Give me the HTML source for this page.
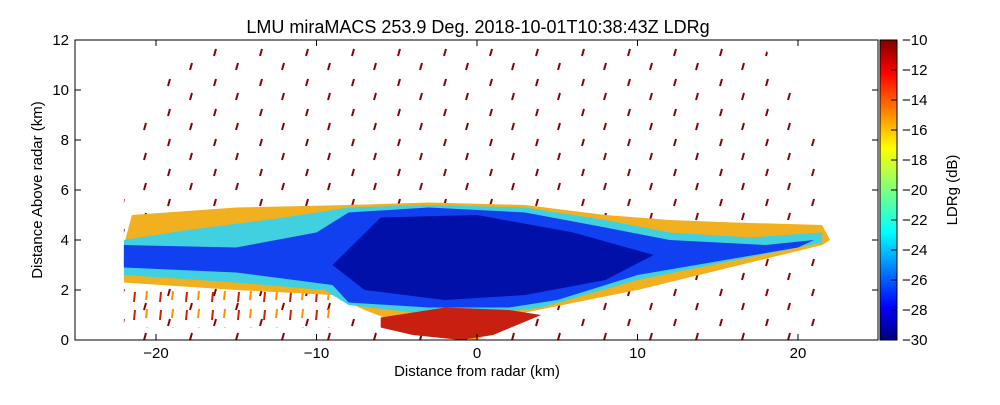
<!DOCTYPE html>
<html><head><meta charset="utf-8"><style>
body{margin:0;background:#fff;font-family:"Liberation Sans",sans-serif;overflow:hidden}
svg text{font-family:"Liberation Sans",sans-serif}
</style></head><body>
<svg id="chart" width="1000" height="400" viewBox="0 0 1000 400">
<defs>
<linearGradient id="jet" x1="0" y1="1" x2="0" y2="0">
<stop offset="0" stop-color="#00007f"/><stop offset="0.11" stop-color="#0000ff"/>
<stop offset="0.36" stop-color="#00ffff"/><stop offset="0.5" stop-color="#7fff7f"/>
<stop offset="0.64" stop-color="#ffff00"/><stop offset="0.89" stop-color="#ff0000"/>
<stop offset="1" stop-color="#7f0000"/></linearGradient>
<pattern id="speck" width="46" height="30" patternUnits="userSpaceOnUse">
<line x1="6" y1="10" x2="8" y2="3" stroke="#8b0000" stroke-width="2"/>
<line x1="30" y1="26" x2="32" y2="19" stroke="#8b0000" stroke-width="2"/>
</pattern>
<pattern id="speck2" width="26" height="18" patternUnits="userSpaceOnUse">
<line x1="4" y1="14" x2="5" y2="4" stroke="#cc2000" stroke-width="2"/>
<line x1="16" y1="12" x2="17" y2="3" stroke="#ff9000" stroke-width="2"/>
</pattern>
<clipPath id="plotclip"><rect x="75" y="40" width="803" height="300"/></clipPath>
</defs>
<text x="478" y="33" text-anchor="middle" font-size="18">LMU miraMACS 253.9 Deg. 2018-10-01T10:38:43Z  LDRg</text>
<g id="plot" clip-path="url(#plotclip)"></g>
<rect x="75" y="40" width="803" height="300" fill="none" stroke="#000" stroke-width="1"/>
<g id="axes"></g>
<text x="477" y="376" text-anchor="middle" font-size="15">Distance from radar (km)</text>
<text transform="translate(42,190) rotate(-90)" text-anchor="middle" font-size="15">Distance Above radar  (km)</text>
<rect x="880" y="40" width="17" height="300" fill="url(#jet)" stroke="#000"/>
<g id="cbar"></g>
<text transform="translate(957,190) rotate(-90)" text-anchor="middle" font-size="15">LDRg (dB)</text>
</svg>
<script>
const xTicks=[-20,-10,0,10,20];
const yTicks=[0,2,4,6,8,10,12];
const cbTicks=[-10,-12,-14,-16,-18,-20,-22,-24,-26,-28,-30];
const outerEcho=[[-22,2.3],[-22,3.8],[-21.5,5.0],[-15,5.3],[-8,5.4],[-3,5.5],[3,5.4],[8,5.0],[12,4.8],[16,4.7],[21.5,4.6],[22,4.0],[21.5,3.8],[10,2.0],[3,1.1],[0,0],[-3,0.2],[-7,1.2],[-9,1.8],[-15,2.0],[-22,2.3]];
const midEcho=[[-22,2.6],[-22,4.0],[-18,4.4],[-12,4.9],[-8,5.3],[-3,5.4],[3,5.3],[8,4.8],[12,4.3],[17,4.1],[21.5,4.3],[21.5,3.9],[10,2.4],[4,1.3],[0,1.0],[-4,1.1],[-8,1.4],[-9.5,2.0],[-15,2.3],[-22,2.6]];
const blueEcho=[[-22,2.9],[-22,3.8],[-15,3.7],[-10,4.3],[-8,5.1],[-3,5.3],[3,5.1],[8,4.5],[12,4.0],[18,3.8],[21,4.0],[20,3.7],[10,2.6],[5,1.6],[2,1.3],[-3,1.3],[-8,1.5],[-9,2.2],[-15,2.7],[-22,2.9]];
const coreEcho=[[-9,3.0],[-6,4.9],[0,5.0],[6,4.3],[11,3.4],[8,2.4],[3,1.8],[-2,1.6],[-7,2.0]];
const groundClutter=[[-6,0.9],[-2,1.3],[2,1.2],[4,1.0],[1,0.2],[-1,0],[-4,0.2],[-6,0.5]];
const xs=v=>477+v*16.05, ys=v=>340-v*25;
const NS="http://www.w3.org/2000/svg";
const plot=document.getElementById('plot'),axes=document.getElementById('axes'),cbar=document.getElementById('cbar');
function mk(t,a,p){const e=document.createElementNS(NS,t);for(const k in a)e.setAttribute(k,a[k]);p.appendChild(e);return e;}
function pts(arr){return arr.map(p=>xs(p[0])+','+ys(p[1])).join(' ');}
let e;
e=mk('path',{d:`M${xs(-22)},${ys(0)} L${xs(-22)},${ys(5.5)} A${16.05*22} ${25*11} 0 0 1 ${xs(22)},${ys(5)} L${xs(22)},${ys(0)}Z`,fill:'url(#speck)'},plot);


e=mk('rect',{x:xs(-22),y:ys(2.2),width:16.05*13,height:25*1.7,fill:'url(#speck2)'},plot);


const layers=[[outerEcho,'#f0b020','echo-edge'],[midEcho,'#40d0e0','echo-mid'],[blueEcho,'#1040f0','echo-blue'],[coreEcho,'#0010a8','echo-core'],[groundClutter,'#c82010','ground-clutter']];
layers.forEach(l=>{e=mk('polygon',{points:pts(l[0]),fill:l[1]},plot);

});
xTicks.forEach(t=>{mk('line',{x1:xs(t),x2:xs(t),y1:340,y2:334,stroke:'#000'},axes);mk('line',{x1:xs(t),x2:xs(t),y1:40,y2:46,stroke:'#000'},axes);
e=mk('text',{x:xs(t),y:358,'text-anchor':'middle','font-size':15},axes);e.textContent=(t<0?'\u2212'+(-t):t);

});
yTicks.forEach(t=>{mk('line',{x1:75,x2:81,y1:ys(t),y2:ys(t),stroke:'#000'},axes);mk('line',{x1:872,x2:878,y1:ys(t),y2:ys(t),stroke:'#000'},axes);
e=mk('text',{x:69,y:ys(t)+5,'text-anchor':'end','font-size':15},axes);e.textContent=t;

});
cbTicks.forEach(t=>{const y=340-(t+30)*15;mk('line',{x1:891,x2:897,y1:y,y2:y,stroke:'#000'},cbar);
e=mk('text',{x:902,y:y+5,'font-size':15},cbar);e.textContent='\u2212'+(-t);

});
</script>
</body></html>
